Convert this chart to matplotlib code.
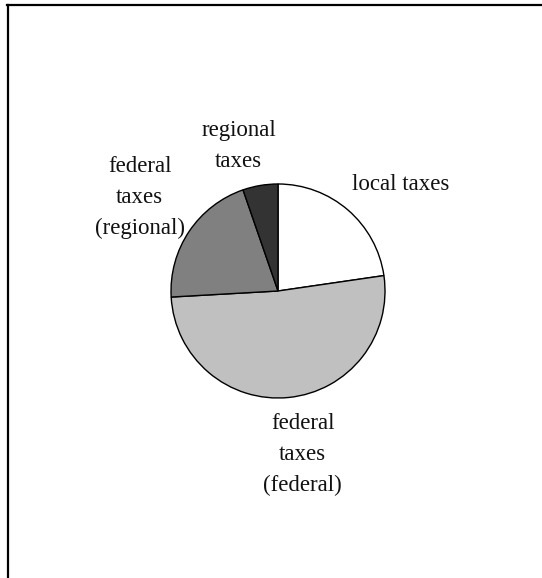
import matplotlib
matplotlib.use("Agg")
import matplotlib.pyplot as plt
from matplotlib.lines import Line2D

# tax revenue shares, percent
categories = ["local taxes", "federal\ntaxes\n(federal)", "federal\ntaxes\n(regional)", "regional\ntaxes"]
shares = [22.7, 51.4, 20.6, 5.3]
colors = ["#ffffff", "#c0c0c0", "#808080", "#333333"]

# label anchors in pie units (radius = 1)
label_pos = [(1.147, 0.997), (0.231, -1.526), (-1.293, 0.876), (-0.367, 1.357)]

plt.rcParams["font.family"] = ["Liberation Serif", "DejaVu Serif"]

fig = plt.figure(figsize=(5.42, 5.78), dpi=100)
ax = fig.add_axes([0.1181, 0.1263, 0.7897, 0.7405])

ax.pie(
    shares,
    colors=colors,
    startangle=90,
    counterclock=False,
    wedgeprops={"edgecolor": "black", "linewidth": 1.0},
)

for text, (x, y) in zip(categories, label_pos):
    ax.text(x, y, text, ha="center", va="center", fontsize=16.5,
            linespacing=1.62, color="#111111")

ax.set_xlim(-2, 2)
ax.set_ylim(-2, 2)
ax.set_aspect("equal")
ax.axis("off")

# open border on the top and left sides
top = 1 - 5 / 578
left = 8 / 542
fig.add_artist(Line2D([7 / 542, 1], [top, top], color="black", linewidth=1.6,
                      transform=fig.transFigure))
fig.add_artist(Line2D([left, left], [0, top], color="black", linewidth=1.6,
                      transform=fig.transFigure))

fig.savefig("out.png", dpi=100)
